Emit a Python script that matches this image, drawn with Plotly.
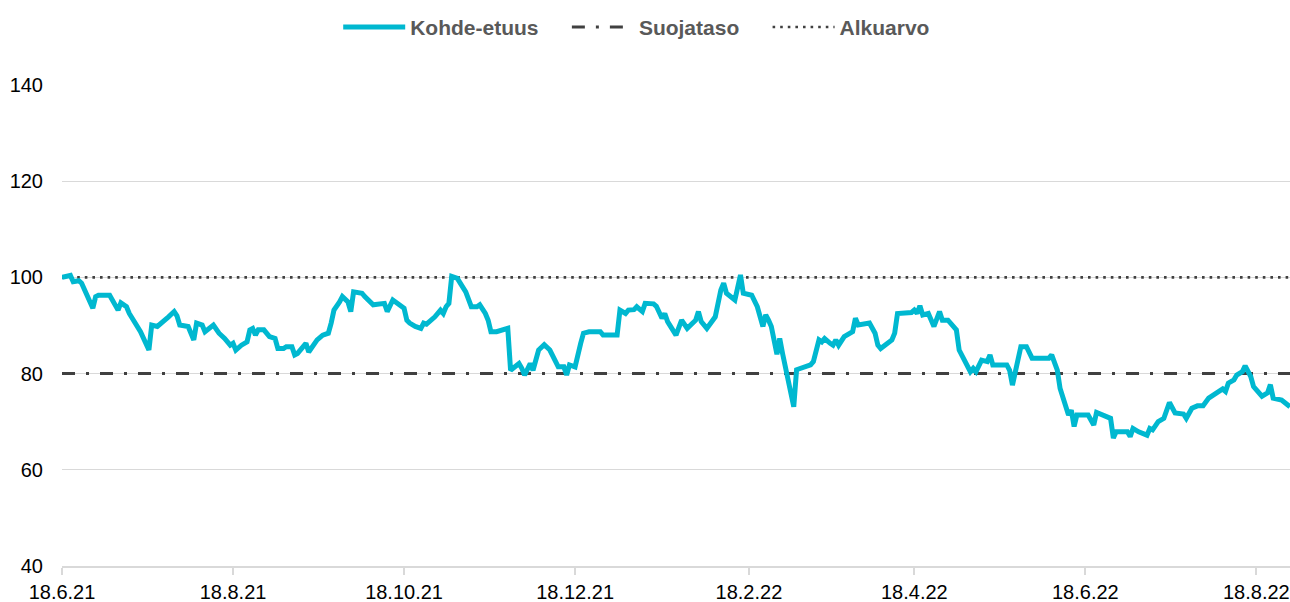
import plotly.graph_objects as go

# ---- data ----
dates = [
    "2021-06-18","2021-06-21","2021-06-22","2021-06-24","2021-06-25","2021-06-29","2021-06-30",
    "2021-07-01","2021-07-05","2021-07-06","2021-07-08","2021-07-09","2021-07-11","2021-07-12",
    "2021-07-14","2021-07-16","2021-07-19","2021-07-20","2021-07-22","2021-07-25","2021-07-26",
    "2021-07-28","2021-07-29","2021-07-30","2021-08-02","2021-08-04","2021-08-05","2021-08-07",
    "2021-08-08","2021-08-11","2021-08-13","2021-08-15","2021-08-17","2021-08-18","2021-08-19",
    "2021-08-21","2021-08-23","2021-08-24","2021-08-25","2021-08-26","2021-08-27","2021-08-29",
    "2021-08-31","2021-09-02","2021-09-03","2021-09-05","2021-09-06","2021-09-08","2021-09-09",
    "2021-09-10","2021-09-11","2021-09-13","2021-09-14","2021-09-17","2021-09-19","2021-09-21",
    "2021-09-22","2021-09-23","2021-09-25","2021-09-26","2021-09-28","2021-09-29","2021-09-30",
    "2021-10-03","2021-10-04","2021-10-06","2021-10-07","2021-10-11","2021-10-12","2021-10-14",
    "2021-10-16","2021-10-18","2021-10-19","2021-10-20","2021-10-22","2021-10-24","2021-10-25",
    "2021-10-26","2021-10-29","2021-10-31","2021-11-01","2021-11-02","2021-11-03","2021-11-04",
    "2021-11-06","2021-11-07","2021-11-09","2021-11-11","2021-11-13","2021-11-14","2021-11-16",
    "2021-11-17","2021-11-18","2021-11-20","2021-11-23","2021-11-24","2021-11-25","2021-11-27",
    "2021-11-28","2021-11-29","2021-11-30","2021-12-02","2021-12-03","2021-12-05","2021-12-07",
    "2021-12-09","2021-12-11","2021-12-12","2021-12-14","2021-12-15","2021-12-16","2021-12-18",
    "2021-12-20","2021-12-21","2021-12-23","2021-12-27","2021-12-28","2022-01-02","2022-01-03",
    "2022-01-05","2022-01-06","2022-01-08","2022-01-09","2022-01-11","2022-01-12","2022-01-15",
    "2022-01-16","2022-01-17","2022-01-18","2022-01-19","2022-01-20","2022-01-23","2022-01-25",
    "2022-01-27","2022-01-30","2022-01-31","2022-02-01","2022-02-03","2022-02-06","2022-02-08",
    "2022-02-09","2022-02-10","2022-02-11","2022-02-13","2022-02-15","2022-02-16","2022-02-19",
    "2022-02-21","2022-02-23","2022-02-24","2022-02-25","2022-02-26","2022-02-28","2022-03-01",
    "2022-03-02","2022-03-04","2022-03-06","2022-03-07","2022-03-10","2022-03-12","2022-03-13",
    "2022-03-15","2022-03-16","2022-03-17","2022-03-19","2022-03-20","2022-03-21","2022-03-22",
    "2022-03-24","2022-03-26","2022-03-27","2022-03-28","2022-03-29","2022-04-02","2022-04-04",
    "2022-04-05","2022-04-06","2022-04-10","2022-04-11","2022-04-12","2022-04-13","2022-04-17",
    "2022-04-18","2022-04-19","2022-04-20","2022-04-21","2022-04-23","2022-04-25","2022-04-27",
    "2022-04-28","2022-04-30","2022-05-03","2022-05-04","2022-05-06","2022-05-08","2022-05-09",
    "2022-05-10","2022-05-12","2022-05-14","2022-05-15","2022-05-16","2022-05-21","2022-05-22",
    "2022-05-23","2022-05-24","2022-05-25","2022-05-26","2022-05-28","2022-05-30","2022-06-05",
    "2022-06-06","2022-06-08","2022-06-09","2022-06-12","2022-06-13","2022-06-14","2022-06-15",
    "2022-06-19","2022-06-21","2022-06-22","2022-06-27","2022-06-28","2022-06-29","2022-07-03",
    "2022-07-04","2022-07-05","2022-07-07","2022-07-10","2022-07-11","2022-07-12","2022-07-14",
    "2022-07-16","2022-07-17","2022-07-18","2022-07-20","2022-07-23","2022-07-24","2022-07-26",
    "2022-07-28","2022-07-30","2022-08-01","2022-08-02","2022-08-04","2022-08-06","2022-08-07",
    "2022-08-08","2022-08-10","2022-08-11","2022-08-13","2022-08-14","2022-08-16","2022-08-17",
    "2022-08-20","2022-08-22","2022-08-23","2022-08-24","2022-08-27","2022-08-29","2022-08-30",
]
kohde_etuus = [
    100.0,100.4,99.1,99.3,98.8,93.6,96.0,
    96.3,96.3,95.3,93.2,94.7,93.9,92.5,
    90.4,88.7,84.9,90.1,89.8,91.1,91.8,
    92.9,92.0,90.1,89.8,87.0,90.5,90.1,
    88.7,90.1,88.4,87.3,85.9,86.3,84.9,
    85.9,86.6,89.1,89.4,88.0,89.1,89.1,
    87.7,87.3,85.2,85.2,85.6,85.6,83.9,
    84.2,85.0,86.3,84.5,87.0,88.0,88.4,
    90.5,93.2,94.9,96.0,94.9,92.9,97.0,
    96.7,96.0,94.6,94.3,94.6,92.9,95.3,
    94.6,93.6,91.1,90.5,89.8,89.4,90.5,
    90.3,91.8,93.2,92.5,93.9,94.6,100.2,
    99.8,98.8,97.0,93.9,93.9,94.3,92.5,
    91.1,88.7,88.7,89.4,89.4,80.7,81.6,
    82.1,81.1,79.7,82.1,80.7,84.9,86.0,
    84.9,82.8,81.4,81.4,79.7,81.8,81.4,
    86.3,88.4,88.7,88.7,88.0,88.0,93.2,
    92.5,93.2,93.3,93.9,92.9,94.6,94.5,
    94.0,92.5,91.5,92.5,90.8,88.0,91.1,
    89.4,91.1,92.9,90.8,89.4,91.8,97.4,
    98.8,96.7,96.3,95.3,100.5,96.7,96.3,
    93.9,89.8,92.2,91.1,89.8,84.0,87.3,
    84.2,78.7,73.1,80.8,81.3,81.8,82.5,
    87.0,86.6,87.3,86.3,85.9,87.0,85.9,
    87.7,88.4,88.7,91.5,90.1,90.5,88.4,
    85.9,85.2,87.0,88.4,92.5,92.5,92.7,
    93.2,92.5,94.1,92.2,92.5,89.8,92.9,
    91.1,91.1,89.1,84.9,82.5,80.4,81.1,
    80.4,82.8,82.5,83.9,81.8,81.8,80.7,
    77.6,80.1,82.8,85.6,85.6,83.2,83.2,
    83.9,80.7,76.9,71.4,72.4,69.0,71.4,
    71.4,69.3,71.9,70.7,66.6,67.9,67.9,
    66.9,68.6,67.9,67.2,68.6,68.3,70.0,
    70.7,72.1,74.0,71.8,71.6,70.7,72.8,
    73.3,73.3,74.9,75.3,76.3,76.8,76.3,
    78.0,78.7,79.7,80.4,81.6,79.4,77.3,
    75.3,76.0,77.7,74.9,74.5,73.5,73.1,
]
level_dates = ["2021-06-18", "2022-08-30"]
suojataso = [80, 80]
alkuarvo = [100, 100]
tick_dates = ["2021-06-18","2021-08-18","2021-10-18","2021-12-18",
              "2022-02-18","2022-04-18","2022-06-18","2022-08-18"]
tick_labels = ["18.6.21","18.8.21","18.10.21","18.12.21",
               "18.2.22","18.4.22","18.6.22","18.8.22"]
y_ticks = [40, 60, 80, 100, 120, 140]

FONT = "Liberation Sans, Arial, sans-serif"
PAD = "\u00a0" * 4  # spacing after legend labels

fig = go.Figure()
fig.add_trace(go.Scatter(
    x=level_dates, y=suojataso, mode="lines", name="Suojataso" + PAD, legendrank=2,
    line=dict(color="#404040", width=3, dash="13px,11px,3px,11px"),
))
fig.add_trace(go.Scatter(
    x=level_dates, y=alkuarvo, mode="lines", name="Alkuarvo", legendrank=3,
    line=dict(color="#404040", width=2.6, dash="2.6px,5px"),
))
fig.add_trace(go.Scatter(
    x=dates, y=kohde_etuus, mode="lines", name="Kohde-etuus" + PAD, legendrank=1,
    line=dict(color="#00B8D0", width=5),
))

fig.update_layout(
    width=1290, height=602,
    margin=dict(l=62, r=0, t=85, b=36),
    paper_bgcolor="white", plot_bgcolor="white",
    font=dict(family=FONT, size=20, color="#000000"),
    showlegend=True,
    legend=dict(
        orientation="h", x=0.468, xanchor="center", y=1.12, yanchor="middle",
        font=dict(family=FONT, size=21, color="#595959", weight="bold"),
        itemwidth=62, bgcolor="rgba(0,0,0,0)",
    ),
    xaxis=dict(
        type="date", range=["2021-06-18", "2022-08-30"],
        tickvals=tick_dates, ticktext=tick_labels,
        showgrid=False, zeroline=False, automargin=False,
        showline=True, linecolor="#D9D9D9", linewidth=1.5,
        ticks="outside", ticklen=7, tickcolor="#D9D9D9", tickwidth=1.5,
        tickfont=dict(family=FONT, size=20, color="#000000"),
    ),
    yaxis=dict(
        range=[40, 140], tickvals=y_ticks, automargin=False,
        showgrid=True, gridcolor="#D9D9D9", gridwidth=1,
        zeroline=False, showline=False, ticks="",
        ticklabelstandoff=18,
        tickfont=dict(family=FONT, size=20, color="#000000"),
    ),
)

fig.write_html(
    "out.html",
    config={"displayModeBar": False},
    post_script="document.body.style.margin='0';document.body.style.overflow='hidden';",
)
